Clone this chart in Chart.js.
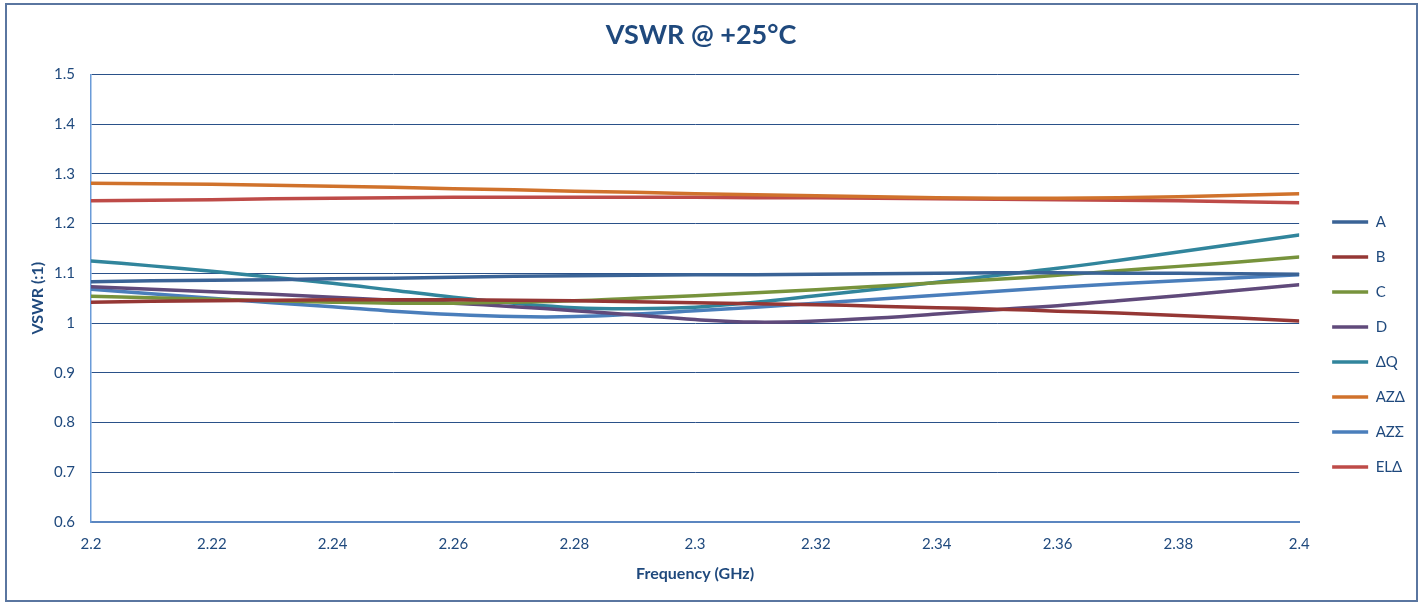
<!DOCTYPE html>
<html>
<head>
<meta charset="utf-8">
<title>VSWR @ +25°C</title>
<script src="https://cdn.jsdelivr.net/npm/chart.js@4.4.1/dist/chart.umd.min.js"></script>
<style>
    html, body { margin: 0; padding: 0; background: #fff; }
    #wrap { width: 1424px; height: 603px; }
</style>
</head>
<body>
<div id="wrap"><canvas id="vswrChart" width="1424" height="603"></canvas></div>
<script>
// Frequency points (GHz)
const freqs = [2.20, 2.21, 2.22, 2.23, 2.24, 2.25, 2.26, 2.27, 2.28, 2.29, 2.30,
               2.31, 2.32, 2.33, 2.34, 2.35, 2.36, 2.37, 2.38, 2.39, 2.40];

// VSWR
const vswrA    = [1.083, 1.085, 1.086, 1.087, 1.089, 1.090, 1.092, 1.094, 1.095, 1.096, 1.097,
                  1.097, 1.098, 1.099, 1.100, 1.101, 1.101, 1.100, 1.100, 1.099, 1.098];
const vswrB    = [1.042, 1.044, 1.045, 1.046, 1.047, 1.047, 1.047, 1.046, 1.045, 1.043, 1.041,
                  1.039, 1.037, 1.034, 1.031, 1.028, 1.024, 1.020, 1.015, 1.010, 1.004];
const vswrC    = [1.054, 1.051, 1.048, 1.045, 1.042, 1.040, 1.040, 1.042, 1.045, 1.050, 1.055,
                  1.061, 1.067, 1.074, 1.081, 1.088, 1.096, 1.105, 1.114, 1.123, 1.133];
const vswrD    = [1.073, 1.068, 1.063, 1.058, 1.052, 1.046, 1.040, 1.033, 1.025, 1.016, 1.007,
                  1.002, 1.004, 1.010, 1.018, 1.027, 1.035, 1.045, 1.055, 1.066, 1.077];
const vswrDQ   = [1.125, 1.115, 1.104, 1.092, 1.080, 1.066, 1.052, 1.040, 1.031, 1.029, 1.032,
                  1.042, 1.055, 1.068, 1.082, 1.096, 1.110, 1.126, 1.143, 1.160, 1.177];
const vswrAZD  = [1.281, 1.280, 1.279, 1.277, 1.275, 1.273, 1.270, 1.268, 1.265, 1.263, 1.260,
                  1.258, 1.256, 1.254, 1.252, 1.251, 1.251, 1.252, 1.254, 1.257, 1.260];
const vswrAZS  = [1.068, 1.059, 1.050, 1.041, 1.033, 1.024, 1.017, 1.013, 1.013, 1.018, 1.025,
                  1.032, 1.040, 1.048, 1.056, 1.064, 1.072, 1.079, 1.085, 1.091, 1.097];
const vswrELD  = [1.246, 1.247, 1.248, 1.250, 1.251, 1.252, 1.253, 1.253, 1.253, 1.253, 1.253,
                  1.252, 1.252, 1.251, 1.250, 1.249, 1.248, 1.247, 1.246, 1.244, 1.242];

const seriesNames  = ['A', 'B', 'C', 'D', 'ΔQ', 'AZΔ', 'AZΣ', 'ELΔ'];
const seriesValues = [vswrA, vswrB, vswrC, vswrD, vswrDQ, vswrAZD, vswrAZS, vswrELD];
const seriesColors = ['#3A6396', '#953735', '#77933C', '#604A7B', '#31859C', '#D0722C', '#4A7EBB', '#BE4B48'];

// Axis ticks
const xTicks = [2.2, 2.22, 2.24, 2.26, 2.28, 2.3, 2.32, 2.34, 2.36, 2.38, 2.4];
const yTicks = [0.6, 0.7, 0.8, 0.9, 1, 1.1, 1.2, 1.3, 1.4, 1.5];

const FONT = 'Lato, "Open Sans", sans-serif';
const TEXT_COLOR = '#1F497D';

// outer frame around the whole chart
const framePlugin = {
    id: 'frame',
    afterDraw(chart) {
        const ctx = chart.ctx;
        ctx.save();
        ctx.strokeStyle = '#5A76A0';
        ctx.lineWidth = 2;
        ctx.strokeRect(6, 4, 1411, 597);
        ctx.restore();
    }
};

// move the legend a bit away from the plot and lower
const legendShift = {
    id: 'legendShift',
    afterLayout(chart) {
        const lg = chart.legend;
        if (!lg) return;
        lg.left += 13;
        lg.right += 13;
        lg.top += 43;
        lg.bottom += 43;
    }
};

function buildDatasets() {
    return seriesNames.map((name, i) => ({
        label: name,
        data: freqs.map((f, j) => ({ x: f, y: seriesValues[i][j] })),
        borderColor: seriesColors[i],
        backgroundColor: seriesColors[i],
        borderWidth: 3.5,
        borderCapStyle: 'round',
        pointRadius: 0,
        pointHoverRadius: 0,
        tension: 0.4,
        fill: false
    }));
}

const ctx = document.getElementById('vswrChart').getContext('2d');

new Chart(ctx, {
    type: 'line',
    data: { datasets: buildDatasets() },
    options: {
        responsive: false,
        animation: false,
        devicePixelRatio: 1,
        layout: { padding: { left: 0, right: 22, top: 0, bottom: 0 } },
        plugins: {
            title: {
                display: true,
                text: 'VSWR @ +25°C',
                color: TEXT_COLOR,
                font: { family: FONT, size: 27, weight: 'bold' },
                padding: { top: 19, bottom: 23 }
            },
            legend: {
                position: 'right',
                labels: {
                    color: TEXT_COLOR,
                    font: { family: FONT, size: 15 },
                    usePointStyle: true,
                    pointStyle: 'line',
                    pointStyleWidth: 36,
                    padding: 20
                }
            },
            tooltip: { enabled: false }
        },
        scales: {
            x: {
                type: 'linear',
                min: 2.2,
                max: 2.4,
                afterFit: (s) => { s.height = 81; },
                afterBuildTicks: (s) => { s.ticks = xTicks.map(v => ({ value: v })); },
                ticks: {
                    color: TEXT_COLOR,
                    font: { family: FONT, size: 15 },
                    padding: 13,
                    maxRotation: 0,
                    autoSkip: false,
                    callback: (v) => String(+v.toFixed(2))
                },
                grid: { display: false, drawTicks: false },
                border: { display: true, color: '#5B86C0', width: 2 },
                title: {
                    display: true,
                    text: 'Frequency (GHz)',
                    color: TEXT_COLOR,
                    font: { family: FONT, size: 16, weight: 'bold' },
                    padding: { top: 0, bottom: 20 }
                }
            },
            y: {
                min: 0.6,
                max: 1.5,
                afterFit: (s) => { s.width = 91; },
                afterBuildTicks: (s) => { s.ticks = yTicks.map(v => ({ value: v })); },
                ticks: {
                    color: TEXT_COLOR,
                    font: { family: FONT, size: 15 },
                    padding: 16,
                    callback: (v) => String(+v.toFixed(1))
                },
                grid: { color: '#2A5189', lineWidth: 1, drawTicks: false },
                border: { display: true, color: '#6A9BD8', width: 1.5 },
                title: {
                    display: true,
                    text: 'VSWR (:1)',
                    color: TEXT_COLOR,
                    font: { family: FONT, size: 16, weight: 'bold' },
                    padding: { top: 28, bottom: 0 }
                }
            }
        }
    },
    plugins: [framePlugin, legendShift]
});

console.log('VSWR chart rendered');
</script>
</body>
</html>
